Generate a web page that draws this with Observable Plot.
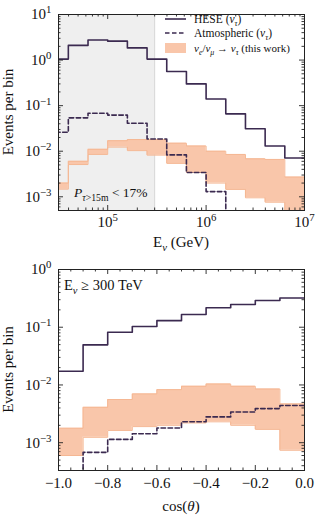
<!DOCTYPE html>
<html><head><meta charset="utf-8">
<script src="https://cdn.jsdelivr.net/npm/d3@7"></script>
<script src="https://cdn.jsdelivr.net/npm/@observablehq/plot@0.6"></script>
<style>
body{margin:0;background:#fff;}
#c{width:332px;height:520px;}
#c svg{display:block;}
</style></head><body><div id="c"></div>
<script>
// ---------- Top panel: energy (log10 GeV bin edges) ----------
const eEdges   = [4.4,4.6,4.8,5.0,5.2,5.4,5.6,5.8,6.0,6.2,6.4,6.6,6.8,7.0];
const heseE    = [1.05,2.1,2.75,2.6,1.85,1.05,0.56,0.30,0.14,0.066,0.031,0.013,0.0071];
const atmE     = [0.026,0.054,0.068,0.062,0.041,0.0185,0.0083,0.0034,0.0013,1e-4,1e-4,1e-4,1e-4];
const bandLoE  = [0.00147,0.0051,0.0085,0.0123,0.0103,0.0082,0.0054,0.0034,0.0020,0.00145,0.00095,0.00076,0.0003];
const bandHiE  = [0.0020,0.0060,0.011,0.017,0.018,0.018,0.015,0.013,0.010,0.0085,0.0068,0.0066,0.0027];
const shadeMaxE = 3e5;          // 300 TeV
const topXDomain = [10**4.5, 1e7];
const topYDomain = [5e-4, 10];
const topXDecades = [4,5,6,7];
const topYDecades = [-4,-3,-2,-1,0,1];

// ---------- Bottom panel: cos(theta) bins, E >= 300 TeV ----------
const cEdges   = [-1.0,-0.9,-0.8,-0.7,-0.6,-0.5,-0.4,-0.3,-0.2,-0.1,0.0];
const heseC    = [0.0173,0.0495,0.082,0.103,0.13,0.166,0.217,0.247,0.29,0.32];
const atmC     = [1e-4,0.00068,0.00114,0.00143,0.0018,0.0023,0.0028,0.0034,0.0039,0.0044];
const bandLoC  = [0.0006,0.00124,0.00163,0.0019,0.002,0.0022,0.0023,0.002,0.0017,0.00074];
const bandHiC  = [0.00178,0.0041,0.0056,0.0070,0.0083,0.0095,0.0104,0.0095,0.0085,0.0047];
const botXDomain = [-1, 0];
const botYDomain = [3.3e-4, 1];
const botXMajor = [-1.0,-0.8,-0.6,-0.4,-0.2,0.0];
const botXMinor = [-0.95,-0.9,-0.85,-0.75,-0.7,-0.65,-0.55,-0.5,-0.45,-0.35,-0.3,-0.25,-0.15,-0.1,-0.05];
const botYDecades = [-4,-3,-2,-1,0];

const FONT = "'Liberation Serif','DejaVu Serif',serif";
const C_HESE = "#3b2a50", C_BAND = "#f9c6aa", C_BANDE = "#f5b793", C_GRAY = "#efefef";
const W = 332;

function stepRows(edges, cols, xf) {
  const n = edges.length - 1, rows = [];
  for (let i = 0; i <= n; i++) {
    const j = Math.min(i, n - 1), r = {x: xf(edges[i])};
    for (const k in cols) r[k] = cols[k][j];
    rows.push(r);
  }
  return rows;
}
function minorLog(decades, dom) {
  const out = [];
  for (const k of decades) for (let m = 2; m <= 9; m++) { const v = m * 10 ** k; if (v >= dom[0] && v <= dom[1]) out.push(v); }
  return out;
}
function majorLog(decades, dom) {
  return decades.map(k => 10 ** k).filter(v => v >= dom[0] * 0.999 && v <= dom[1] * 1.001);
}
const fmtPow = d => { const e = Math.round(Math.log10(d)); return "10^" + (e < 0 ? "\u2212" + (-e) : e); };

function tickMarks(xMaj, xMin, yMaj, yMin, pw, ph) {
  const st = {stroke: "#222", strokeWidth: 0.9};
  return [
    Plot.ruleY(yMaj, {...st, insetRight: pw - 5}), Plot.ruleY(yMaj, {...st, insetLeft: pw - 5}),
    Plot.ruleY(yMin, {...st, insetRight: pw - 2.5}), Plot.ruleY(yMin, {...st, insetLeft: pw - 2.5}),
    Plot.ruleX(xMaj, {...st, insetTop: ph - 5}), Plot.ruleX(xMaj, {...st, insetBottom: ph - 5}),
    Plot.ruleX(xMin, {...st, insetTop: ph - 2.5}), Plot.ruleX(xMin, {...st, insetBottom: ph - 2.5})
  ];
}

// ---------- top plot ----------
const tM = {l: 58, r: 28, t: 14, b: 45}, tH = 255;
const tpw = W - tM.l - tM.r, tph = tH - tM.t - tM.b;
const rowsE = stepRows(eEdges, {hese: heseE, atm: atmE, lo: bandLoE, hi: bandHiE}, e => 10 ** e);
const tXMaj = majorLog(topXDecades, topXDomain), tXMin = minorLog(topXDecades, topXDomain);
const tYMaj = majorLog(topYDecades, topYDomain), tYMin = minorLog(topYDecades, topYDomain);

const topPlot = Plot.plot({
  width: W, height: tH,
  marginLeft: tM.l, marginRight: tM.r, marginTop: tM.t, marginBottom: tM.b,
  style: {fontFamily: FONT, fontSize: "15px", color: "#111", background: "#fff"},
  x: {type: "log", domain: topXDomain},
  y: {type: "log", domain: topYDomain},
  marks: [
    Plot.rect([{a: topXDomain[0], b: shadeMaxE}], {x1: "a", x2: "b", y1: () => topYDomain[0], y2: () => topYDomain[1], fill: C_GRAY}),
    Plot.ruleX([shadeMaxE], {stroke: "#d6d6d6", strokeWidth: 1}),
    Plot.areaY(rowsE, {x: "x", y1: "lo", y2: "hi", curve: "step-after", fill: C_BAND, clip: true}),
    Plot.line(rowsE, {x: "x", y: "lo", curve: "step-after", stroke: C_BANDE, strokeWidth: 1, clip: true}),
    Plot.line(rowsE, {x: "x", y: "hi", curve: "step-after", stroke: C_BANDE, strokeWidth: 1, clip: true}),
    Plot.line(rowsE, {x: "x", y: "hese", curve: "step-after", stroke: C_HESE, strokeWidth: 1.6, clip: true}),
    Plot.line(rowsE, {x: "x", y: "atm", curve: "step-after", stroke: C_HESE, strokeWidth: 1.6, strokeDasharray: "4.5,2.5", clip: true}),
    Plot.frame({stroke: "#222", strokeWidth: 1}),
    ...tickMarks(tXMaj, tXMin, tYMaj, tYMin, tpw, tph),
    Plot.axisY({ticks: tYMaj, tickSize: 0, tickPadding: 7, tickFormat: fmtPow, label: null}),
    Plot.axisX({ticks: tXMaj, tickSize: 0, tickPadding: 6, tickFormat: fmtPow, label: null})
  ]
});

// ---------- bottom plot ----------
const bM = {l: 58, r: 28, t: 14, b: 50}, bH = 265;
const bpw = W - bM.l - bM.r, bph = bH - bM.t - bM.b;
const rowsC = stepRows(cEdges, {hese: heseC, atm: atmC, lo: bandLoC, hi: bandHiC}, c => c);
const bYMaj = majorLog(botYDecades, botYDomain), bYMin = minorLog(botYDecades, botYDomain);

const botPlot = Plot.plot({
  width: W, height: bH,
  marginLeft: bM.l, marginRight: bM.r, marginTop: bM.t, marginBottom: bM.b,
  style: {fontFamily: FONT, fontSize: "15px", color: "#111", background: "#fff"},
  x: {domain: botXDomain},
  y: {type: "log", domain: botYDomain},
  marks: [
    Plot.areaY(rowsC, {x: "x", y1: "lo", y2: "hi", curve: "step-after", fill: C_BAND, clip: true}),
    Plot.line(rowsC, {x: "x", y: "lo", curve: "step-after", stroke: C_BANDE, strokeWidth: 1, clip: true}),
    Plot.line(rowsC, {x: "x", y: "hi", curve: "step-after", stroke: C_BANDE, strokeWidth: 1, clip: true}),
    Plot.line(rowsC, {x: "x", y: "hese", curve: "step-after", stroke: C_HESE, strokeWidth: 1.6, clip: true}),
    Plot.line(rowsC, {x: "x", y: "atm", curve: "step-after", stroke: C_HESE, strokeWidth: 1.6, strokeDasharray: "4.5,2.5", clip: true}),
    Plot.frame({stroke: "#222", strokeWidth: 1}),
    ...tickMarks(botXMajor, botXMinor, bYMaj, bYMin, bpw, bph),
    Plot.axisY({ticks: bYMaj, tickSize: 0, tickPadding: 7, tickFormat: fmtPow, label: null}),
    Plot.axisX({ticks: botXMajor, tickSize: 0, tickPadding: 7, tickFormat: d3.format(".1f"), label: null})
  ]
});

const root = document.getElementById("c");
root.appendChild(topPlot);
root.appendChild(botPlot);

// superscript formatting for 10^k tick labels
function supify(svg) {
  d3.select(svg).selectAll("text").each(function () {
    const m = /^10\^(.+)$/.exec(this.textContent);
    if (!m) return;
    const el = d3.select(this);
    el.text(null);
    el.append("tspan").text("10");
    el.append("tspan").attr("dy", "-0.55em").attr("font-size", "0.72em").text(m[1]);
  });
}
supify(topPlot); supify(botPlot);

// rich text helper: parts = [[string, kind]], kind in "", "i", "sub", "isub", "sup"
function rich(svg, x, y, parts, size, anchor = "start", rot = 0) {
  const t = d3.select(svg).append("text")
    .attr("font-family", FONT).attr("font-size", size).attr("fill", "#111").attr("text-anchor", anchor);
  if (rot) t.attr("transform", `translate(${x},${y}) rotate(${rot})`); else t.attr("x", x).attr("y", y);
  let cur = 0;
  for (const [s, k = ""] of parts) {
    const sub = k.includes("sub"), sup = k.includes("sup");
    const off = sub ? 0.28 * size : sup ? -0.45 * size : 0;
    const ts = t.append("tspan").attr("dy", off - cur).text(s);
    cur = off;
    if (sub || sup) ts.attr("font-size", size * 0.72);
    if (k.startsWith("i")) ts.attr("font-style", "italic");
  }
  return t;
}

// top panel texts
rich(topPlot, 13, tM.t + tph / 2, [["Events per bin"]], 15, "middle", -90).attr("dy", "0.35em");
rich(topPlot, 181, 247, [["E"], ["\u03bd", "isub"], [" (GeV)"]], 15, "middle");
rich(topPlot, 74, 197, [["P", "i"], ["\u03c4", "isub"], [">15m", "sub"], [" < 17%"]], 13.5);

// legend
const lg = d3.select(topPlot).append("g");
lg.append("line").attr("x1", 165).attr("x2", 186).attr("y1", 19).attr("y2", 19).attr("stroke", C_HESE).attr("stroke-width", 1.6);
lg.append("line").attr("x1", 165).attr("x2", 186).attr("y1", 33).attr("y2", 33).attr("stroke", C_HESE).attr("stroke-width", 1.6).attr("stroke-dasharray", "4.5,2.5");
lg.append("rect").attr("x", 165).attr("width", 21).attr("y", 43).attr("height", 10).attr("fill", C_BAND);
rich(topPlot, 194, 23, [["HESE ("], ["\u03bd", "i"], ["\u03c4", "isub"], [")"]], 11.5);
rich(topPlot, 194, 37, [["Atmospheric ("], ["\u03bd", "i"], ["\u03c4", "isub"], [")"]], 11.5);
rich(topPlot, 194, 52, [["\u03bd", "i"], ["e", "isub"], ["/"], ["\u03bd", "i"], ["\u03bc", "isub"], [" \u2192 "], ["\u03bd", "i"], ["\u03c4", "isub"], [" (this work)"]], 11);

// bottom panel texts
rich(botPlot, 13, bM.t + bph / 2, [["Events per bin"]], 15, "middle", -90).attr("dy", "0.35em");
rich(botPlot, 181, 256, [["cos("], ["\u03b8", "i"], [")"]], 15, "middle");
rich(botPlot, 64, 35, [["E"], ["\u03bd", "isub"], [" \u2265 300 TeV"]], 14.5);
</script>
</body></html>
